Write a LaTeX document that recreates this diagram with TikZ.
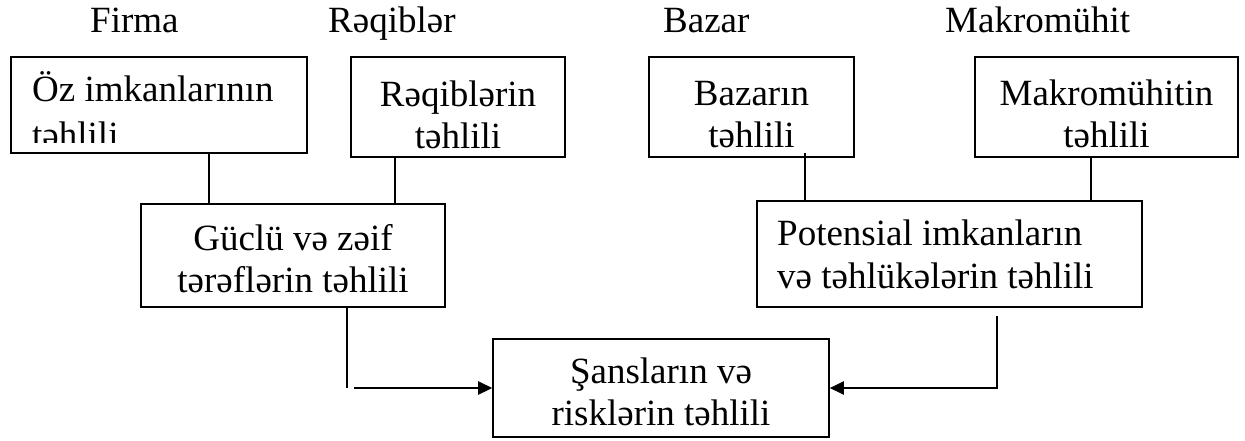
\documentclass[tikz,border=0pt]{standalone}
\usepackage{fontspec}
\setmainfont{Liberation Serif}
\usetikzlibrary{arrows.meta}
\begin{document}
\begin{tikzpicture}[x=1pt,y=-1pt,
  box/.style={draw, line width=1.6pt, rectangle, inner sep=0pt},
  txt/.style={font=\fontsize{37}{42}\selectfont, inner sep=0pt, anchor=base},
  txtl/.style={txt, anchor=base west},
  link/.style={line width=1.6pt},
  feed/.style={line width=2.6pt, -{Triangle[length=14pt,width=13pt]}}]
\useasboundingbox (0,0) rectangle (1245,441);

% column headings
\node[txtl] (hfirma) at (90,33) {Firma};
\node[txtl] (hreq)   at (328,33) {Rəqiblər};
\node[txtl] (hbazar) at (663,33) {Bazar};
\node[txtl] (hmakro) at (945,33) {Makromühit};

% upper row of boxes
\node[box, minimum width=296pt, minimum height=96pt]  (oz) at (159,105) {};
\node[box, minimum width=214pt, minimum height=100pt] (rq) at (458,107) {};
\node[box, minimum width=205pt, minimum height=100pt] (bz) at (751.5,107) {};
\node[box, minimum width=263pt, minimum height=100pt] (mk) at (1106.5,107) {};

\node[txtl] (oz1) at (32,102) {Öz imkanlarının};
\begin{scope}
  \clip (11,57) rectangle (307,143);
  \node[txtl] (oz2) at (32,147) {təhlili};
\end{scope}
\node[txt] (rq1) at (458,107) {Rəqiblərin};
\node[txt] (rq2) at (458,149) {təhlili};
\node[txt] (bz1) at (751.5,106) {Bazarın};
\node[txt] (bz2) at (751.5,148) {təhlili};
\node[txt] (mk1) at (1106.5,106) {Makromühitin};
\node[txt] (mk2) at (1106.5,148) {təhlili};

% middle row
\node[box, minimum width=304pt, minimum height=103pt] (gz) at (293,255.5) {};
\node[txt] (gz1) at (293,250) {Güclü və zəif};
\node[txt] (gz2) at (293,292) {tərəflərin təhlili};

\node[box, minimum width=385pt, minimum height=106pt] (pt) at (949.5,254) {};
\node[txtl] (pt1) at (777,245) {Potensial imkanların};
\node[txtl] (pt2) at (777,288) {və təhlükələrin təhlili};

% result box
\node[box, minimum width=336pt, minimum height=98pt] (sh) at (661,388) {};
\node[txt] (sh1) at (661,383) {Şansların və};
\node[txt] (sh2) at (661,425) {risklərin təhlili};

% connector columns
\coordinate (xa) at (209,0);
\coordinate (xb) at (395,0);
\coordinate (xc) at (805,0);
\coordinate (xd) at (1091,0);
\coordinate (xe) at (347,0);
\coordinate (xf) at (997,0);

\draw[link] (oz.south -| xa) -- (gz.north -| xa);
\draw[link] (rq.south -| xb) -- (gz.north -| xb);
\draw[link] ([yshift=5pt]bz.south -| xc) -- (pt.north -| xc);
\draw[link] (mk.south -| xd) -- (pt.north -| xd);

\draw[link] (gz.south -| xe) -- (sh.west -| xe);
\draw[feed] ([xshift=7pt]sh.west -| xe) -- (sh.west);

\draw[link] ([yshift=-8pt]pt.south -| xf) -- (sh.east -| xf);
\draw[feed] ([xshift=0.8pt]sh.east -| xf) -- (sh.east);
\end{tikzpicture}
\end{document}
